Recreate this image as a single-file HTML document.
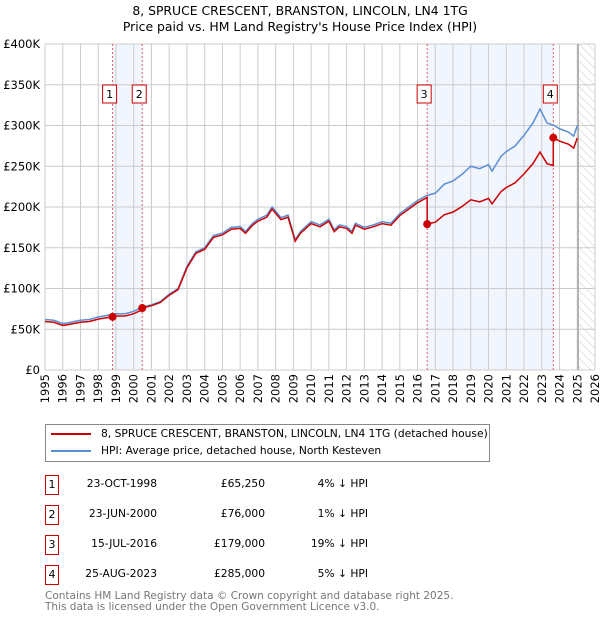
<!DOCTYPE html>
<html><head><meta charset="utf-8"><style>
body{margin:0;background:#fff;font-family:"DejaVu Sans","Liberation Sans",sans-serif;}
#wrap{position:relative;width:600px;height:620px;overflow:hidden;}
.t{position:absolute;font-size:10.7px;color:#000;white-space:nowrap;}
.box{position:absolute;border:1px solid #c00;width:12px;height:18px;text-align:center;line-height:18px;font-size:11px;}
</style></head><body><div id="wrap">
<div class="t" style="left:0;width:600px;text-align:center;top:3px;font-size:12.4px">8, SPRUCE CRESCENT, BRANSTON, LINCOLN, LN4 1TG</div>
<div class="t" style="left:0;width:600px;text-align:center;top:19px;font-size:12.4px">Price paid vs. HM Land Registry's House Price Index (HPI)</div>
<svg id="chart" width="600" height="410" style="position:absolute;left:0;top:0"></svg>
<div style="position:absolute;left:45px;top:424px;width:443px;height:36px;border:1px solid #888">
<div style="position:absolute;left:5px;top:8px;width:40px;height:2px;background:#c00"></div>
<div class="t" style="left:55px;top:2px">8, SPRUCE CRESCENT, BRANSTON, LINCOLN, LN4 1TG (detached house)</div>
<div style="position:absolute;left:5px;top:25px;width:40px;height:2px;background:#5b8fd4"></div>
<div class="t" style="left:55px;top:19px">HPI: Average price, detached house, North Kesteven</div>
</div>
<div id="table"></div>
<div class="t" style="left:45px;top:591px;color:#777;line-height:10.5px;font-size:10.5px">Contains HM Land Registry data © Crown copyright and database right 2025.<br>This data is licensed under the Open Government Licence v3.0.</div>
</div>
<script>
const hpiYears=[1995,1995.5,1996,1996.3,1997,1997.5,1998,1998.5,1998.81,1999,1999.5,2000,2000.48,2001,2001.5,2002,2002.5,2003,2003.5,2004,2004.5,2005,2005.5,2006,2006.3,2006.7,2007,2007.5,2007.8,2008.3,2008.7,2009.1,2009.4,2010,2010.5,2011,2011.3,2011.6,2012,2012.3,2012.5,2013,2013.5,2014,2014.5,2015,2015.5,2016,2016.5,2017,2017.5,2018,2018.5,2019,2019.5,2020,2020.2,2020.7,2021,2021.5,2022,2022.5,2022.9,2023.3,2023.7,2024,2024.5,2024.8,2025];
const hpiValues=[62,61,57,58,61,62,65,67,68,69,69,72,77,80,84,93,100,127,145,150,165,168,175,176,170,180,185,190,200,187,190,160,170,182,178,185,172,178,176,170,180,175,178,182,180,192,200,208,214,217,228,232,240,250,247,252,244,262,268,275,288,303,320,303,300,296,292,287,300];
const saleTimes=[1998.81,2000.48,2016.54,2023.65];
const salePrices=[65.25,76,179,285];
const saleLabels=["1","2","3","4"];
const saleDates=["23-OCT-1998","23-JUN-2000","15-JUL-2016","25-AUG-2023"];
const salePriceText=["£65,250","£76,000","£179,000","£285,000"];
const saleDiff=["4% ↓ HPI","1% ↓ HPI","19% ↓ HPI","5% ↓ HPI"];
const yTicks=[0,50,100,150,200,250,300,350,400];
const yTickLabels=["£0","£50K","£100K","£150K","£200K","£250K","£300K","£350K","£400K"];
const xTicks=[1995,1996,1997,1998,1999,2000,2001,2002,2003,2004,2005,2006,2007,2008,2009,2010,2011,2012,2013,2014,2015,2016,2017,2018,2019,2020,2021,2022,2023,2024,2025,2026];

const L=45,R=595,T=44,B=370;
const X=t=>L+(t-1995)/31*(R-L);
const Y=v=>B-v/400*(B-T);
const svg=document.getElementById('chart');
const NS='http://www.w3.org/2000/svg';
function mk(tag,attrs,parent){const e=document.createElementNS(NS,tag);for(const k in attrs)e.setAttribute(k,attrs[k]);(parent||svg).appendChild(e);return e;}
function hpiAt(t){for(let i=1;i<hpiYears.length;i++){if(t<=hpiYears[i]){const a=hpiYears[i-1],b=hpiYears[i];return hpiValues[i-1]+(hpiValues[i]-hpiValues[i-1])*(t-a)/(b-a);}}return hpiValues[hpiValues.length-1];}

for(let i=0;i<saleTimes.length;i+=2){const r=mk('rect',{x:X(saleTimes[i]),y:T,width:X(saleTimes[i+1])-X(saleTimes[i]),height:B-T,fill:'#eef3fc',opacity:0.8});
}
const defs=mk('defs',{});const pat=mk('pattern',{id:'h',width:6,height:6,patternUnits:'userSpaceOnUse',patternTransform:'rotate(-45)'},defs);mk('line',{x1:0,y1:0,x2:0,y2:6,stroke:'#ccc','stroke-width':1},pat);
const hz=mk('rect',{x:X(2025.05),y:T,width:R-X(2025.05),height:B-T,fill:'url(#h)'});

xTicks.forEach((t,i)=>{const g=mk('line',{x1:X(t),x2:X(t),y1:T,y2:B,stroke:'#ccc'});

const tx=mk('text',{x:X(t)+4,y:374,'text-anchor':'end','font-size':11.5,transform:'rotate(-90 '+(X(t)+4)+' 374)'});tx.textContent=t;
});
yTicks.forEach((v,i)=>{const g=mk('line',{x1:L,x2:R,y1:Y(v),y2:Y(v),stroke:'#ccc'});

const tx=mk('text',{x:40,y:Y(v)+4,'text-anchor':'end','font-size':11.5});tx.textContent=yTickLabels[i];
});
const nl=mk('line',{x1:X(2025.05),x2:X(2025.05),y1:T,y2:B,stroke:'#888'});

saleTimes.forEach(t=>{const l=mk('line',{x1:X(t),x2:X(t),y1:T,y2:B,stroke:'#e06060','stroke-dasharray':'2,2'});
});
const hp=mk('polyline',{points:hpiYears.map((t,i)=>X(t)+','+Y(hpiValues[i])).join(' '),fill:'none',stroke:'#5b8fd4','stroke-width':1.5});

const pts=[];
hpiYears.forEach(t=>{let k=0;while(k+1<saleTimes.length&&saleTimes[k+1]<=t)k++;
 if(t>=saleTimes[k]||k===0){const r=salePrices[k]/hpiAt(saleTimes[k]);pts.push([t,hpiAt(t)*r]);}});
saleTimes.forEach((t,k)=>{if(k>0){const r=salePrices[k-1]/hpiAt(saleTimes[k-1]);pts.push([t-0.001,hpiAt(t)*r]);}pts.push([t,salePrices[k]]);});
pts.sort((a,b)=>a[0]-b[0]);
const rp=mk('polyline',{points:pts.map(p=>X(p[0])+','+Y(p[1])).join(' '),fill:'none',stroke:'#cc0000','stroke-width':1.5});

saleTimes.forEach((t,k)=>{const c=mk('circle',{cx:X(t),cy:Y(salePrices[k]),r:4,fill:'#cc0000'});

const bx=mk('rect',{x:X(t)-10,y:85,width:14,height:18,fill:'#fff',stroke:'#c00'});

const tx=mk('text',{x:X(t)-3,y:98,'text-anchor':'middle','font-size':11});tx.textContent=saleLabels[k];
});
const tb=document.getElementById('table');
saleTimes.forEach((t,k)=>{const y=475+k*30;
 const b=document.createElement('div');b.className='box';b.style.left='45px';b.style.top=y+'px';b.textContent=saleLabels[k];
 tb.appendChild(b);
 [[saleDates[k],157,'row-date'],[salePriceText[k],265,'row-price'],[saleDiff[k],368,'row-diff']].forEach(c=>{
  const d=document.createElement('div');d.className='t';d.style.left=(c[1]-100)+'px';d.style.width='100px';d.style.textAlign='right';d.style.top=(y+2)+'px';d.textContent=c[0];
  tb.appendChild(d);});
});
</script></body></html>
